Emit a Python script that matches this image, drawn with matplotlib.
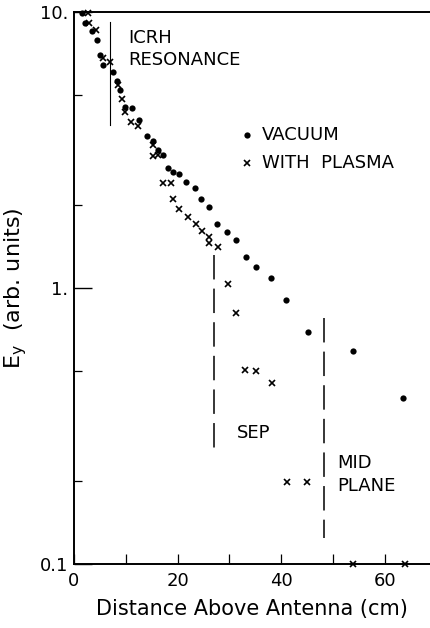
import matplotlib
matplotlib.use("Agg")
import matplotlib.pyplot as plt
from matplotlib.ticker import FixedLocator, FixedFormatter, NullFormatter

# ---- data ----
vac_x = [1.5, 2.1, 3.5, 4.4, 5.0, 5.6, 7.5, 8.3, 8.9, 9.8, 11.2, 12.5, 14.1,
         15.3, 16.2, 17.2, 18.1, 19.1, 20.3, 21.6, 23.4, 24.5, 26.1, 27.6,
         29.5, 31.3, 33.2, 35.1, 38.0, 40.9, 45.2, 53.9, 63.5]
vac_y = [9.9, 9.1, 8.5, 7.9, 7.0, 6.4, 6.06, 5.6, 5.2, 4.53, 4.49, 4.06, 3.56,
         3.41, 3.16, 3.03, 2.72, 2.63, 2.59, 2.42, 2.30, 2.10, 1.96, 1.71,
         1.60, 1.49, 1.29, 1.19, 1.09, 0.905, 0.693, 0.592, 0.40]

pla_x = [2.7, 2.9, 4.2, 5.6, 6.9, 8.5, 9.3, 9.8, 11.0, 12.4, 15.3, 15.3, 16.2,
         17.2, 18.7, 19.1, 20.3, 22.0, 23.6, 24.7, 26.1, 26.1, 27.8, 29.7,
         31.3, 33.0, 35.1, 38.2, 41.1, 45.0, 53.9, 63.9]
pla_y = [9.9, 9.12, 8.6, 6.81, 6.59, 5.44, 4.84, 4.35, 3.99, 3.86, 3.30, 3.01,
         3.03, 2.40, 2.40, 2.10, 1.93, 1.81, 1.71, 1.61, 1.53, 1.46, 1.41,
         1.03, 0.81, 0.505, 0.50, 0.453, 0.198, 0.198, 0.10, 0.10]

icrh_x = 6.9
sep_x = 27.0
mid_x = 48.3

x_major = [0, 20, 40, 60]
x_major_labels = ["0", "20", "40", "60"]
x_minor = [10, 30, 50]
y_major = [0.1, 1, 10]
y_major_labels = ["0.1", "1.", "10."]
y_minor = [0.2, 0.5, 2, 5]

plt.rcParams['font.family'] = ['DejaVu Sans']

fig = plt.figure(figsize=(4.3, 6.28), dpi=100)
ax = fig.add_axes([0.172, 0.102, 0.828, 0.879])
ax.set_yscale('log')
ax.set_xlim(0, 68.7)
ax.set_ylim(0.1, 10)

ax.plot(vac_x, vac_y, 'o', ms=4.5, color='k', mec='none', clip_on=False, zorder=3)
ax.plot(pla_x, pla_y, 'x', ms=5, mew=1.2, color='k', clip_on=False, zorder=3)

# region boundary lines
ax.plot([icrh_x, icrh_x], [9.2, 3.9], color='k', lw=0.8)
ax.plot([sep_x, sep_x], [1.32, 0.259], color='k', lw=1.1, dashes=[16, 6])
ax.plot([mid_x, mid_x], [0.778, 0.124], color='k', lw=1.1, dashes=[16, 6])

# annotations
fs = 13
ax.text(10.4, 8.05, "ICRH", fontsize=fs, va='center', ha='left')
ax.text(10.4, 6.7, "RESONANCE", fontsize=fs, va='center', ha='left')
ax.plot([33.4], [3.58], 'o', ms=4.5, color='k', mec='none')
ax.plot([33.4], [2.84], 'x', ms=5, mew=1.2, color='k')
ax.text(36.2, 3.58, "VACUUM", fontsize=fs, va='center', ha='left')
ax.text(36.2, 2.84, "WITH  PLASMA", fontsize=fs, va='center', ha='left')
ax.text(31.5, 0.298, "SEP", fontsize=fs, va='center', ha='left')
ax.text(50.8, 0.232, "MID", fontsize=fs, va='center', ha='left')
ax.text(50.8, 0.192, "PLANE", fontsize=fs, va='center', ha='left')

# axes styling
ax.spines['right'].set_visible(False)
for s in ['left', 'bottom', 'top']:
    ax.spines[s].set_linewidth(1.4)

ax.xaxis.set_major_locator(FixedLocator(x_major))
ax.xaxis.set_major_formatter(FixedFormatter(x_major_labels))
ax.xaxis.set_minor_locator(FixedLocator(x_minor))
ax.xaxis.set_minor_formatter(NullFormatter())
ax.tick_params(axis='x', which='both', direction='in', length=7, width=0.9,
               labelsize=13, pad=6, top=False)

ax.yaxis.set_major_locator(FixedLocator(y_major))
ax.yaxis.set_major_formatter(FixedFormatter(y_major_labels))
ax.yaxis.set_minor_locator(FixedLocator(y_minor))
ax.yaxis.set_minor_formatter(NullFormatter())
ax.tick_params(axis='y', which='major', direction='in', length=13, width=1.0,
               labelsize=13, pad=4, right=False)
ax.tick_params(axis='y', which='minor', direction='in', length=6, width=0.9,
               right=False)

ax.set_xlabel("Distance Above Antenna (cm)", fontsize=15, labelpad=6)
ax.set_ylabel(r"E$_\mathregular{y}$  (arb. units)", fontsize=16, labelpad=8)

fig.savefig("out.png", dpi=100)
